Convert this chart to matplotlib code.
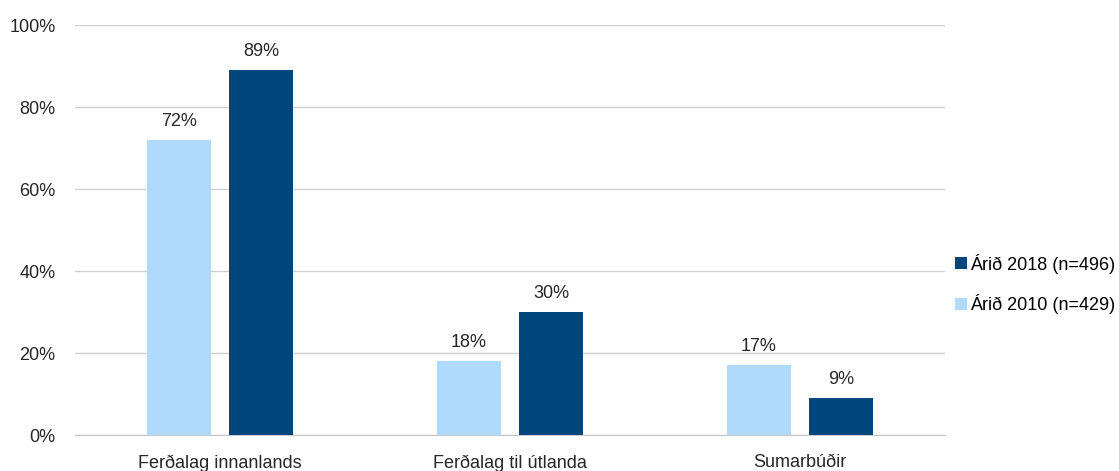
import matplotlib.pyplot as plt
import numpy as np

categories = ['Ferðalag innanlands', 'Ferðalag til útlanda', 'Sumarbúðir']
vals_2010 = [72, 18, 17]
vals_2018 = [89, 30, 9]
label_2010 = 'Árið 2010 (n=429)'
label_2018 = 'Árið 2018 (n=496)'

plt.rcParams['font.family'] = ['Liberation Sans Narrow', 'Liberation Sans', 'DejaVu Sans']
plt.rcParams['font.size'] = 13

fig = plt.figure(figsize=(11.19, 4.71), dpi=100)
ax = fig.add_axes([75/1119, 36/471, 870/1119, 410/471])

x = np.arange(len(categories))
w = 0.224
off = 0.1414
b1 = ax.bar(x - off, vals_2010, w, color='#b0dafb', label=label_2010, zorder=3)
b2 = ax.bar(x + off, vals_2018, w, color='#00457b', label=label_2018, zorder=3)

for bars in (b1, b2):
    for r in bars:
        ax.text(r.get_x() + r.get_width()/2, r.get_height() + 2.5, f'{int(r.get_height())}%',
                ha='center', va='bottom', color='#262626')

ax.set_xlim(-0.5, 2.5)
ax.set_ylim(0, 100)
ax.set_yticks(range(0, 101, 20))
ax.set_yticklabels([f'{v}%' for v in range(0, 101, 20)], color='#262626')
ax.set_xticks(x)
ax.set_xticklabels(categories, color='#262626')
ax.tick_params(axis='x', length=0, pad=14)
ax.tick_params(axis='y', length=0, pad=14)
ax.grid(axis='y', color='#d0d0d0', linewidth=1, zorder=0)
for s in ['top', 'right', 'left']:
    ax.spines[s].set_visible(False)
ax.spines['bottom'].set_color('#c8c8c8')

h, l = ax.get_legend_handles_labels()
fig.legend(h[::-1], l[::-1], loc='center left', bbox_to_anchor=(955/1119, 1 - 284/471),
           frameon=False, fontsize=13, handlelength=0.65, handleheight=0.65, handletextpad=0.2,
           labelspacing=1.15, borderaxespad=0, borderpad=0)

fig.savefig('out.png', dpi=100)
